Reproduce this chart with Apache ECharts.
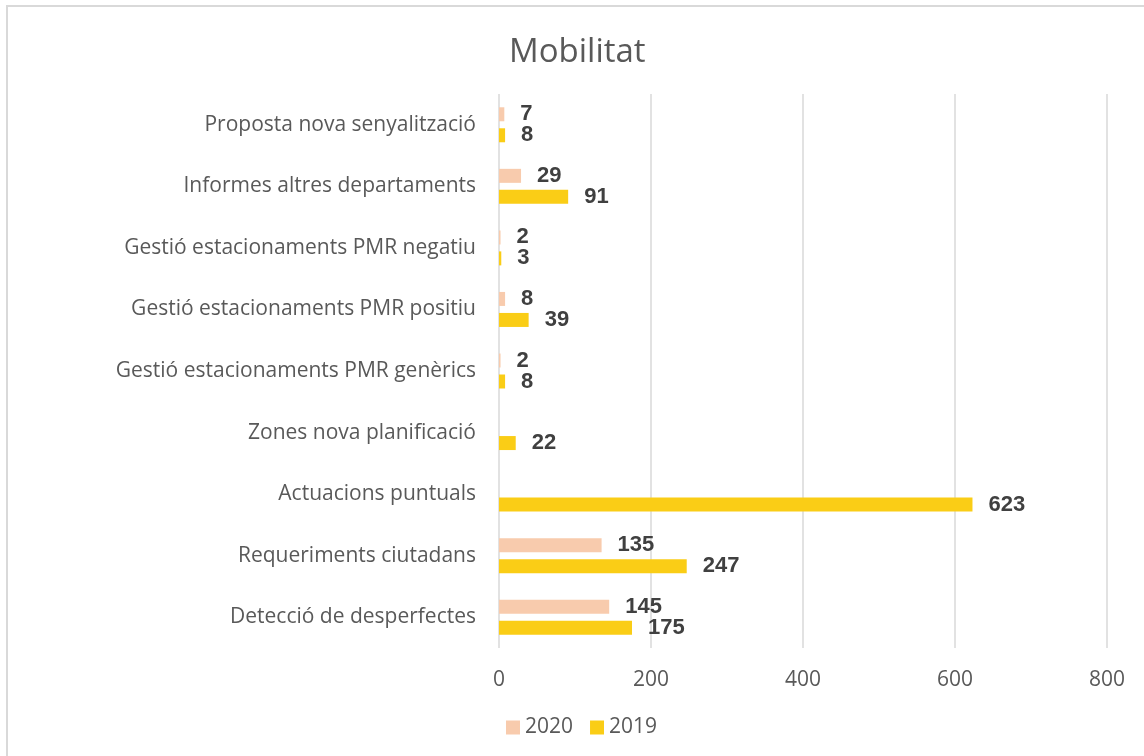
<!DOCTYPE html>
<html>
<head>
<meta charset="utf-8">
<script src="https://cdn.jsdelivr.net/npm/echarts@6/dist/echarts.min.js"></script>
<style>
html,body{margin:0;padding:0;background:#fff;}
#chart{width:1144px;height:756px;}
</style>
</head>
<body>
<div id="chart"></div>
<script>
const categories = [
  "Proposta nova senyalització",
  "Informes altres departaments",
  "Gestió estacionaments PMR negatiu",
  "Gestió estacionaments PMR positiu",
  "Gestió estacionaments PMR genèrics",
  "Zones nova planificació",
  "Actuacions puntuals",
  "Requeriments ciutadans",
  "Detecció de desperfectes"
];
const values2020 = [7, 29, 2, 8, 2, null, null, 135, 145];
const values2019 = [8, 91, 3, 39, 8, 22, 623, 247, 175];
const xTicks = [0, 200, 400, 600, 800];

const chart = echarts.init(document.getElementById('chart'));
const labelStyle = {
  show: true,
  position: 'right',
  distance: 16,
  color: '#404040',
  fontFamily: 'Liberation Sans, Arial, sans-serif',
  fontWeight: 'bold',
  fontSize: 22
};
chart.setOption({
  backgroundColor: '#fff',
  animation: false,
  title: {
    text: 'Mobilitat',
    left: 509,
    top: 36,
    padding: 0,
    textStyle: { color: '#595959', fontFamily: 'Open Sans', fontWeight: 'normal', fontSize: 33 }
  },
  legend: {
    top: 717,
    left: 506,
    padding: 0,
    itemWidth: 14,
    itemHeight: 14,
    itemGap: 17,
    icon: 'rect',
    textStyle: { color: '#595959', fontFamily: 'Open Sans', fontSize: 21 },
    data: ['2020', '2019']
  },
  graphic: [{
    type: 'rect',
    shape: { x: 7, y: 6, width: 1200, height: 800 },
    style: { fill: 'none', stroke: '#D9D9D9', lineWidth: 2 },
    silent: true
  }],
  grid: { left: 499, right: 37, top: 94, bottom: 108, containLabel: false },
  xAxis: {
    type: 'value',
    min: xTicks[0],
    max: xTicks[xTicks.length - 1],
    interval: xTicks[1] - xTicks[0],
    axisLine: { show: false },
    axisTick: { show: false },
    splitLine: { show: true, lineStyle: { color: '#D9D9D9', width: 1.5 } },
    axisLabel: { color: '#595959', fontFamily: 'Open Sans', fontSize: 21, margin: 22 }
  },
  yAxis: {
    type: 'category',
    inverse: true,
    data: categories,
    axisLine: { show: false },
    axisTick: { show: false },
    axisLabel: { color: '#595959', fontFamily: 'Open Sans', fontSize: 21, margin: 23 }
  },
  series: [
    {
      name: '2020', type: 'bar', data: values2020,
      barWidth: 14, barGap: '50%',
      itemStyle: { color: '#F8CBAD' },
      label: labelStyle
    },
    {
      name: '2019', type: 'bar', data: values2019,
      barWidth: 14, barGap: '50%',
      itemStyle: { color: '#FACD16' },
      label: labelStyle
    }
  ]
});
</script>
</body>
</html>
